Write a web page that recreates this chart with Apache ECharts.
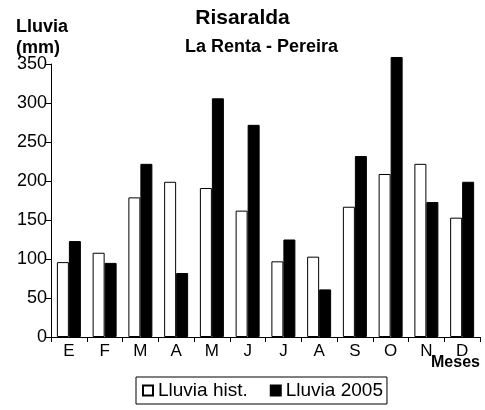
<!DOCTYPE html>
<html><head><meta charset="utf-8">
<script src="https://cdn.jsdelivr.net/npm/echarts@6/dist/echarts.min.js"></script>
<style>html,body{margin:0;padding:0;background:#fff}#c{width:485px;height:410px}</style>
</head><body><div id="c"></div>
<script>
const months = ['E','F','M','A','M','J','J','A','S','O','N','D'];
const lluviaHist = [96, 108, 179, 199, 191, 162, 97, 103, 167, 209, 222, 153];
const lluvia2005 = [123, 95, 222, 82, 306, 272, 125, 61, 232, 359, 173, 199];
const yTicks = [0, 50, 100, 150, 200, 250, 300, 350];

const F = 'Liberation Sans, Arial, sans-serif';
const chart = echarts.init(document.getElementById('c'), null, {renderer:'canvas'});
chart.setOption({
  backgroundColor:'#fff',
  animation:false,
  title:[
    {text:'Risaralda', left:'center', top:3, textStyle:{fontFamily:F, fontSize:21, fontWeight:'bold', color:'#000'}},
    {text:'La Renta - Pereira', left:180, top:33, textStyle:{fontFamily:F, fontSize:18, fontWeight:'bold', color:'#000'}},
    {text:'Lluvia\n(mm)', left:11, top:12, textStyle:{fontFamily:F, fontSize:18, fontWeight:'bold', color:'#000', lineHeight:21}},
    {text:'Meses', left:426, top:350, textStyle:{fontFamily:F, fontSize:16, fontWeight:'bold', color:'#000'}}
  ],
  legend:{
    left:136, top:377, orient:'horizontal',
    itemWidth:10, itemHeight:10, itemGap:22,
    borderColor:'#000', borderWidth:1, padding:[4,4,4,6],
    icon:'rect',
    textStyle:{fontFamily:F, fontSize:19, color:'#000'},
    data:['Lluvia hist.','Lluvia 2005']
  },
  grid:{left:51, right:5, top:64, bottom:73, containLabel:false},
  xAxis:{
    type:'category', data:months,
    axisLine:{lineStyle:{color:'#000', width:1}},
    axisTick:{show:true, length:5, lineStyle:{color:'#000'}},
    axisLabel:{fontFamily:F, fontSize:17, color:'#000', margin:6}
  },
  yAxis:{
    type:'value', min:0, max:350, interval:50,
    axisLine:{show:true, lineStyle:{color:'#000', width:1}},
    axisTick:{show:true, length:5, lineStyle:{color:'#000'}},
    splitLine:{show:false},
    axisLabel:{fontFamily:F, fontSize:18, color:'#000', margin:4,
      formatter: v => yTicks.includes(v) ? String(v) : ''}
  },
  series:[
    {name:'Lluvia hist.', type:'bar', data:lluviaHist, barWidth:12, barGap:'0%', clip:false,
     itemStyle:{color:'#fff', borderColor:'#000', borderWidth:1}},
    {name:'Lluvia 2005', type:'bar', data:lluvia2005, barWidth:12, barGap:'0%', clip:false,
     itemStyle:{color:'#000', borderColor:'#000', borderWidth:1}}
  ]
});
</script></body></html>
